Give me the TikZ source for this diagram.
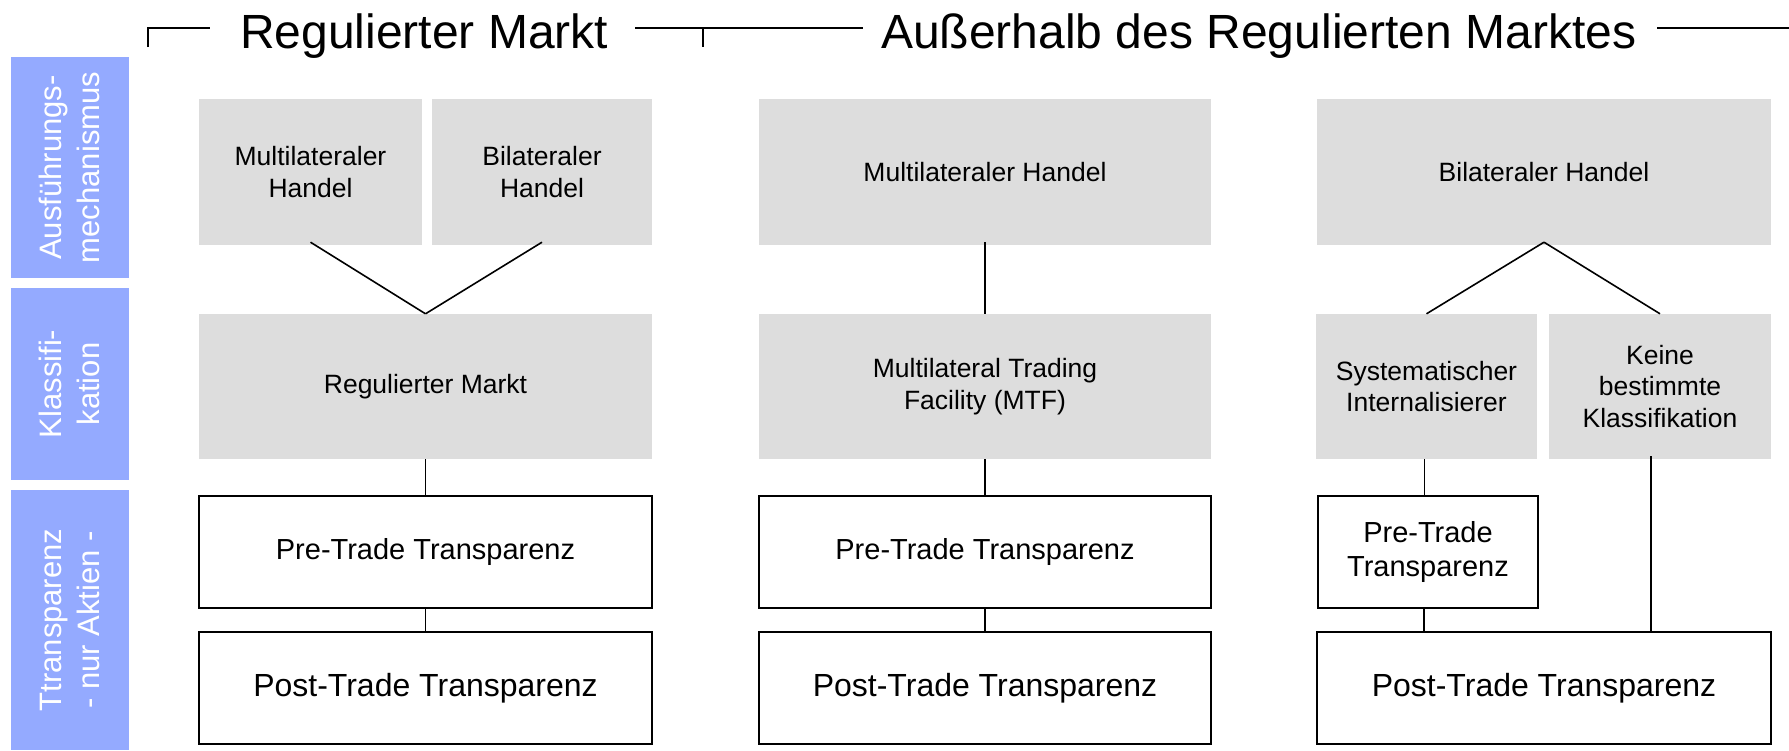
\documentclass[tikz,border=0pt]{standalone}
\usepackage{fontspec}
\setmainfont{Liberation Sans}
\definecolor{boxgray}{RGB}{221,221,221}
\definecolor{labelblue}{RGB}{148,170,255}
\begin{document}
\begin{tikzpicture}[x=1pt,y=-1pt,
  every node/.style={inner sep=0pt, align=center},
  labelbox/.style={fill=labelblue, text=white, rotate=90,
    font=\fontsize{31}{38}\selectfont},
  graybox/.style={fill=boxgray, font=\fontsize{26.5}{31.5}\selectfont},
  prebox/.style={draw=black, line width=2pt, fill=white,
    font=\fontsize{29}{34}\selectfont},
  postbox/.style={draw=black, line width=2pt, fill=white,
    font=\fontsize{32}{38}\selectfont},
  link/.style={line width=1.6pt},
  titlefont/.style={font=\fontsize{48}{56}\selectfont},
  bracket/.style={line width=1.6pt}]
\useasboundingbox (0,0) rectangle (1789,750);

% row labels on the left
\node[labelbox, minimum width=221, minimum height=118] (lab1) at (69.5,167.5) {Ausführungs-\\mechanismus};
\node[labelbox, minimum width=192, minimum height=118] (lab2) at (69.5,384) {Klassifi-\\kation};
\node[labelbox, minimum width=260, minimum height=118] (lab3) at (69.5,620) {Ttransparenz\\- nur Aktien -};

% headings with brackets
\node[titlefont, anchor=base west] (t1) at (240,48) {Regulierter Markt};
\node[titlefont, anchor=base west] (t2) at (881,48) {Außerhalb des Regulierten Marktes};
\coordinate (b1a) at (148,47);
\coordinate (b1b) at (148,28);
\coordinate (b1c) at (210,28);
\coordinate (b2a) at (635,28);
\coordinate (b2b) at (863,28);
\coordinate (b2t) at (703,28);
\coordinate (b2d) at (703,47);
\coordinate (b3a) at (1657,28);
\coordinate (b3b) at (1789,28);
\draw[bracket] (b1a) -- (b1b) -- (b1c);
\draw[bracket] (b2a) -- (b2b);
\draw[bracket] (b2t) -- (b2d);
\draw[bracket] (b3a) -- (b3b);

% column 1: regulated market
\node[graybox, minimum width=223, minimum height=146] (mult1) at (310.5,172) {Multilateraler\\Handel};
\node[graybox, minimum width=220, minimum height=146] (bil1) at (542,172) {Bilateraler\\Handel};
\node[graybox, minimum width=453, minimum height=145] (rm) at (425.5,386.5) {Regulierter Markt};
\node[prebox, minimum width=453, minimum height=112] (pre1) at (425.5,552) {Pre-Trade Transparenz};
\node[postbox, minimum width=453, minimum height=112] (post1) at (425.5,688) {Post-Trade Transparenz};
\draw[link] ([yshift=3]mult1.south) -- (rm.north);
\draw[link] ([yshift=3]bil1.south) -- (rm.north);
\draw[link] (rm.south) -- (pre1.north);
\draw[link] (pre1.south) -- (post1.north);

% column 2: multilateral trading facility
\node[graybox, minimum width=452, minimum height=146] (mult2) at (985,172) {Multilateraler Handel};
\node[graybox, minimum width=452, minimum height=145] (mtf) at (985,386.5) {Multilateral Trading\\Facility (MTF)};
\node[prebox, minimum width=452, minimum height=112] (pre2) at (985,552) {Pre-Trade Transparenz};
\node[postbox, minimum width=452, minimum height=112] (post2) at (985,688) {Post-Trade Transparenz};
\draw[link] ([yshift=3]mult2.south) -- (mtf.north);
\draw[link] (mtf.south) -- (pre2.north);
\draw[link] (pre2.south) -- (post2.north);

% column 3: bilateral trading
\node[graybox, minimum width=454, minimum height=146] (bil3) at (1544,172) {Bilateraler Handel};
\node[graybox, minimum width=221, minimum height=145] (sys) at (1426.5,386.5) {Systematischer\\Internalisierer};
\node[graybox, minimum width=222, minimum height=145] (keine) at (1660,386.5) {Keine\\bestimmte\\Klassifikation};
\node[prebox, minimum width=220, minimum height=112] (pre3) at (1428,552) {Pre-Trade\\Transparenz};
\node[postbox, minimum width=454, minimum height=112] (post3) at (1544,688) {Post-Trade Transparenz};
\draw[link] ([yshift=3]bil3.south) -- (sys.north);
\draw[link] ([yshift=3]bil3.south) -- (keine.north);
\draw[link] ([xshift=-2]sys.south) -- ([xshift=-2]sys.south |- pre3.north);
\draw[link] ([xshift=-4]pre3.south) -- ([xshift=-4]pre3.south |- post3.north);
\draw[link] ([xshift=-9, yshift=3]keine.south) -- ([xshift=-9]keine.south |- post3.north);
\end{tikzpicture}
\end{document}
